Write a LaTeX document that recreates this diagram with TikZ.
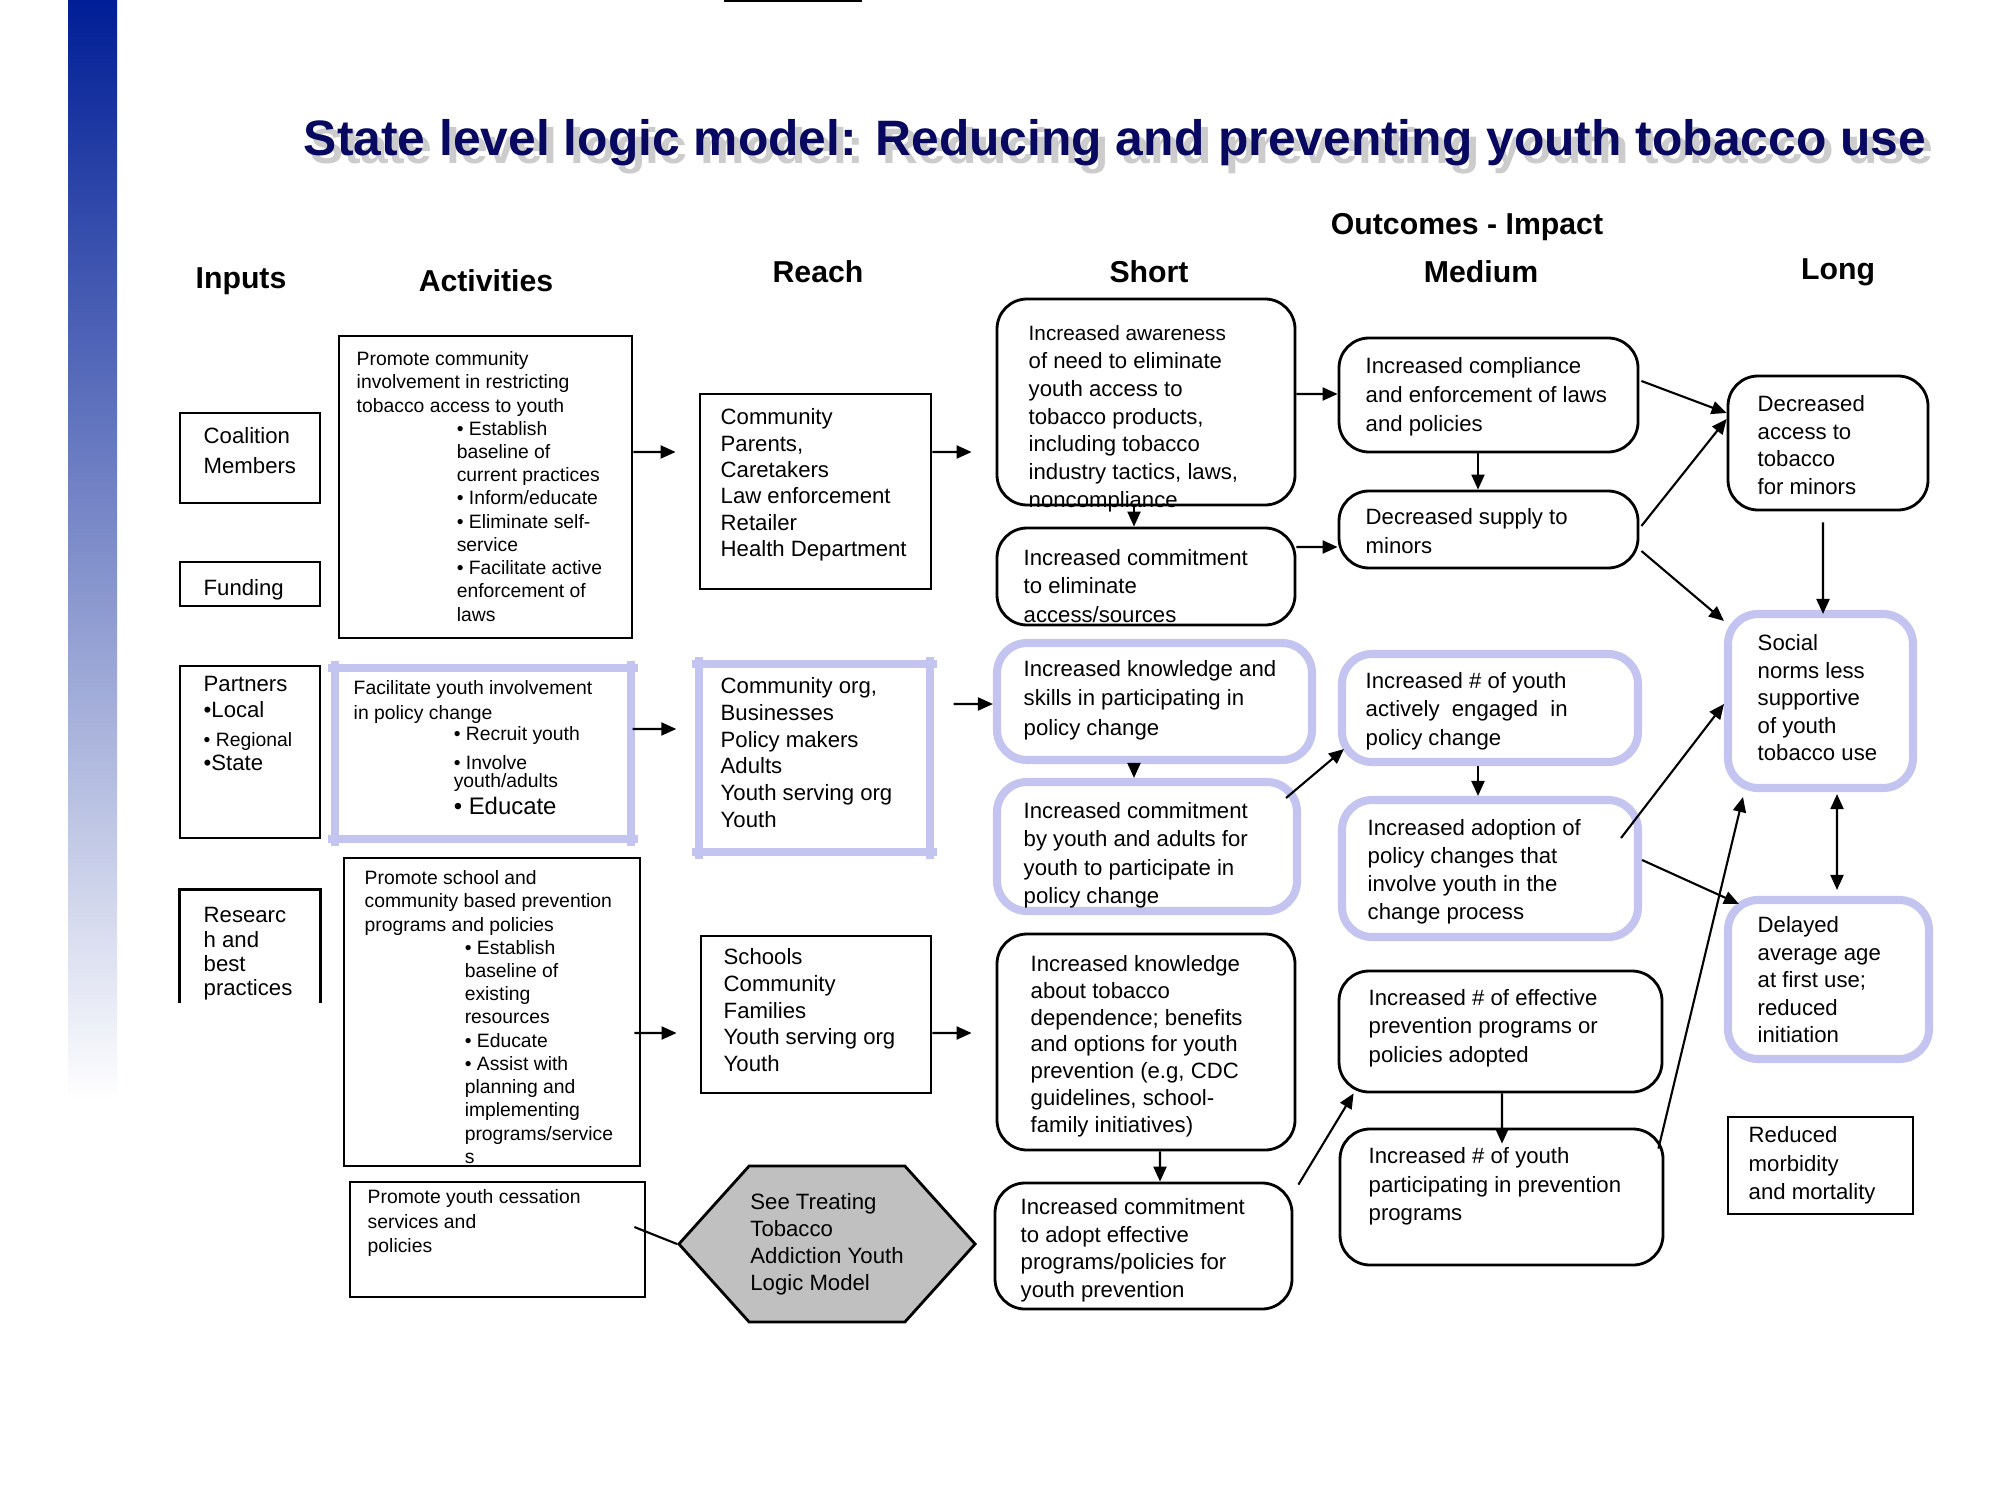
\documentclass[tikz,border=0pt]{standalone}
\usepackage{fontspec}
\setmainfont{Liberation Sans}
\usetikzlibrary{calc}
\usetikzlibrary{fit}
\usetikzlibrary{shapes.symbols}
\usetikzlibrary{arrows.meta}
\definecolor{titleblue}{RGB}{8,8,96}
\definecolor{barblue}{RGB}{0,30,150}
\definecolor{lavender}{RGB}{196,196,240}
\definecolor{hexgray}{RGB}{192,192,192}
\newcommand{\stagebox}[6]{\node[#6, fit={(#2,#3) (#4,#5)}] (#1) {};}
\newcommand{\boxtext}[5]{\node[#5] (#1) at (#2,#3) {#4};}
\newcommand{\bulind}{\hspace*{1cm}}

\begin{document}
\begin{tikzpicture}[x=0.01cm, y=-0.01cm,
    plainbox/.style={draw, line width=0.8pt, inner sep=0pt},
    roundbox/.style={draw, line width=0.8pt, rounded corners=0.3cm, inner sep=0pt},
    lavbox/.style={draw=lavender, line width=2.3pt, rounded corners=0.3cm, inner sep=0pt},
    hidebox/.style={draw=none, inner sep=0pt},
    lavline/.style={draw=lavender, line width=2.3pt, shorten <=-0.07cm, shorten >=-0.07cm},
    txt/.style={inner sep=0pt, anchor=north west, align=left, font=\fontsize{6.3}{#1}\selectfont},
    txt/.default=7.9,
    acttxt/.style={inner sep=0pt, anchor=north west, align=left, font=\fontsize{5.5}{#1}\selectfont},
    acttxt/.default=6.6,
    head/.style={inner sep=0pt, font=\fontsize{8.6}{10}\selectfont\bfseries},
    titlefont/.style={inner sep=0pt, font=\fontsize{14.15}{17}\selectfont\bfseries},
    arr/.style={line width=0.6pt, -{Triangle[length=0.15cm, width=0.13cm]}},
    hexa/.style={signal, signal to=west and east, signal pointer angle=96, draw, fill=hexgray,
      line width=0.8pt, inner sep=0pt, minimum width=2.96cm, minimum height=1.56cm,
      align=left, font=\fontsize{6.3}{7.7}\selectfont}
  ]
  \useasboundingbox (0,0) rectangle (2000,1500);
  \fill[white] (0,0) rectangle (2000,1500);

  % side bar and title
  \shade[top color=barblue, bottom color=white] (68,0) rectangle (117,1100);
  \draw[line width=0.6pt] (724,1) -- (862,1);
  \node[titlefont, text=gray!40] (title-shadow) at (1122,151) {State level logic model: Reducing and preventing youth tobacco use};
  \node[titlefont, text=titleblue] (title) at (1115,143) {State level logic model: Reducing and preventing youth tobacco use};

  % column heads
  \node[head] (h-inputs) at (241,281) {Inputs};
  \node[head] (h-act) at (486,281) {Activities};
  \node[head] (h-reach) at (818,272) {Reach};
  \node[head] (h-out) at (1467,227) {Outcomes - Impact};
  \node[head] (h-short) at (1149,272) {Short};
  \node[head] (h-medium) at (1481,272) {Medium};
  \node[head] (h-long) at (1838,272) {Long};

  % inputs
  \stagebox{coal}{180}{413}{320}{503}{plainbox}
  \stagebox{fund}{180}{562}{320}{606}{plainbox}
  \stagebox{part}{180}{666}{320}{838}{plainbox}
  \stagebox{res}{180}{890}{320}{1002}{hidebox}
  \draw[line width=0.8pt] (res.south west) -- (res.north west) -- (res.north east) -- (res.south east);
  \boxtext{coal-t}{203}{427}{Coalition\\Members}{txt=8.5}
  \boxtext{fund-t}{203}{579}{Funding}{txt}
  \boxtext{part-t}{203}{676}{Partners\\•Local\\[0.8pt]{\fontsize{5.5}{6}\selectfont • Regional}\\[-0.8pt]•State}{txt=7.4}
  \boxtext{res-t}{203}{907}{Researc\\h and\\best\\practices}{txt=6.9}

  % activities
  \stagebox{act1}{339}{336}{632}{638}{plainbox}
  \stagebox{act2}{336}{669}{630}{838}{hidebox}
  \stagebox{act3}{344}{858}{640}{1166}{plainbox}
  \stagebox{act4}{350}{1182}{645}{1297}{plainbox}
  \foreach \b in {act2} {
    \draw[lavline] (\b.north west) -- (\b.north east);
    \draw[lavline] (\b.south west) -- (\b.south east);
    \draw[lavline] (\b.north west) -- (\b.south west);
    \draw[lavline] (\b.north east) -- (\b.south east);
  }
  \boxtext{act1-t}{356}{351}{Promote community\\involvement in restricting\\tobacco access to youth\\
    \bulind• Establish\\\bulind baseline of\\\bulind current practices\\\bulind• Inform/educate\\
    \bulind• Eliminate self-\\\bulind service\\\bulind• Facilitate active\\\bulind enforcement of\\\bulind laws}{acttxt}
  \boxtext{act2-t}{353}{680}{Facilitate youth involvement\\[0.9pt]in policy change\\[-0.2pt]
    \bulind• Recruit youth\\[2pt]\bulind• Involve\\[-1pt]\bulind youth/adults\\[1.5pt]
    \bulind{\fontsize{6.8}{7}\selectfont • Educate}}{acttxt=6.2}
  \boxtext{act3-t}{364}{870}{Promote school and\\community based prevention\\programs and policies\\
    \bulind• Establish\\\bulind baseline of\\\bulind existing\\\bulind resources\\\bulind• Educate\\
    \bulind• Assist with\\\bulind planning and\\\bulind implementing\\\bulind programs/service\\\bulind s}{acttxt}
  \boxtext{act4-t}{367}{1189}{Promote youth cessation\\services and\\policies}{acttxt=7}

  % reach
  \stagebox{r1}{700}{394}{931}{589}{plainbox}
  \stagebox{r2}{700}{665}{929}{851}{hidebox}
  \stagebox{r3}{701}{936}{931}{1093}{plainbox}
  \foreach \b in {r2} {
    \draw[lavline] (\b.north west) -- (\b.north east);
    \draw[lavline] (\b.south west) -- (\b.south east);
    \draw[lavline] (\b.north west) -- (\b.south west);
    \draw[lavline] (\b.north east) -- (\b.south east);
  }
  \boxtext{r1-t}{720}{408}{Community\\Parents,\\Caretakers\\Law enforcement\\Retailer\\Health Department}{txt=7.5}
  \boxtext{r2-t}{720}{677}{Community org,\\Businesses\\Policy makers\\Adults\\Youth serving org\\Youth}{txt=7.6}
  \boxtext{r3-t}{723}{948}{Schools\\Community\\Families\\Youth serving org\\Youth}{txt=7.6}
  \node[hexa] (hex) at (827,1244) {See Treating\\Tobacco\\Addiction Youth\\Logic Model};

  % short
  \stagebox{s1}{997}{299}{1295}{505}{roundbox}
  \stagebox{s2}{997}{528}{1295}{625}{roundbox}
  \stagebox{s3}{997}{643}{1312}{760}{lavbox}
  \stagebox{s4}{997}{782}{1297}{911}{lavbox}
  \stagebox{s5}{997}{934}{1295}{1150}{roundbox}
  \stagebox{s6}{995}{1183}{1292}{1309}{roundbox}
  \boxtext{s1-t}{1028}{325}{\fontsize{5.9}{7.9}\selectfont Increased awareness\\of need to eliminate\\youth access to\\tobacco products,\\including tobacco\\industry tactics, laws,\\noncompliance}{txt}
  \boxtext{s2-t}{1023}{549}{Increased commitment\\to eliminate\\access/sources}{txt=8}
  \boxtext{s3-t}{1023}{660}{Increased knowledge and\\skills in participating in\\policy change}{txt=8.3}
  \boxtext{s4-t}{1023}{802}{Increased commitment\\by youth and adults for\\youth to participate in\\policy change}{txt=8}
  \boxtext{s5-t}{1030}{955}{Increased knowledge\\about tobacco\\dependence; benefits\\and options for youth\\prevention (e.g, CDC\\guidelines, school-\\family initiatives)}{txt=7.6}
  \boxtext{s6-t}{1020}{1198}{Increased commitment\\to adopt effective\\programs/policies for\\youth prevention}{txt=7.8}

  % medium
  \stagebox{m1}{1339}{338}{1638}{452}{roundbox}
  \stagebox{m2}{1339}{491}{1638}{568}{roundbox}
  \stagebox{m3}{1342}{654}{1638}{762}{lavbox}
  \stagebox{m4}{1342}{800}{1638}{937}{lavbox}
  \stagebox{m5}{1339}{971}{1662}{1092}{roundbox}
  \stagebox{m6}{1340}{1129}{1663}{1265}{roundbox}
  \boxtext{m1-t}{1365}{357}{Increased compliance\\and enforcement of laws\\and policies}{txt=8.2}
  \boxtext{m2-t}{1365}{508}{Decreased supply to\\minors}{txt=8.3}
  \boxtext{m3-t}{1365}{672}{Increased \# of youth\\actively\ \ engaged\ \ in\\policy change}{txt=8}
  \boxtext{m4-t}{1367}{819}{Increased adoption of\\policy changes that\\involve youth in the\\change process}{txt=7.9}
  \boxtext{m5-t}{1368}{989}{Increased \# of effective\\prevention programs or\\policies adopted}{txt=8}
  \boxtext{m6-t}{1368}{1147}{Increased \# of youth\\participating in prevention\\programs}{txt=8.1}

  % long
  \stagebox{l1}{1728}{376}{1928}{510}{roundbox}
  \stagebox{l2}{1728}{614}{1913}{788}{lavbox}
  \stagebox{l3}{1728}{900}{1929}{1059}{lavbox}
  \stagebox{l4}{1728}{1117}{1913}{1214}{plainbox}
  \boxtext{l1-t}{1757}{395}{Decreased\\access to\\tobacco\\for minors}{txt=7.8}
  \boxtext{l2-t}{1757}{634}{Social\\norms less\\supportive\\of youth\\tobacco use}{txt=7.8}
  \boxtext{l3-t}{1757}{916}{Delayed\\average age\\at first use;\\reduced\\initiation}{txt=7.8}
  \boxtext{l4-t}{1748}{1126}{Reduced\\morbidity\\and mortality}{txt=8.1}

  % arrows activities -> reach -> short
  \draw[arr, shorten >=0.23cm] ([yshift=0.35cm]act1.east) -- ([yshift=0.395cm]r1.west);
  \draw[arr, shorten >=0.23cm] ([xshift=0.02cm, yshift=0.245cm]act2.east) -- ([yshift=0.29cm]r2.west);
  \draw[arr, shorten >=0.23cm] ([xshift=-0.07cm, yshift=-0.21cm]act3.east) -- ([yshift=-0.185cm]r3.west);
  \draw[line width=0.6pt] ([xshift=-0.12cm, yshift=0.125cm]act4.east) -- (hex.west);
  \draw[arr, shorten >=0.24cm] ([yshift=0.395cm]r1.east) -- ([yshift=-0.5cm]s1.west);
  \draw[arr] ([xshift=0.24cm, yshift=0.54cm]r2.east) -- ([yshift=-0.025cm]s3.west);
  \draw[arr, shorten >=0.24cm] ([yshift=-0.185cm]r3.east) -- ([yshift=0.09cm]s5.west);

  % arrows short
  \draw[arr] ([xshift=-0.12cm]s1.south) -- ([xshift=-0.12cm]s2.north);
  \draw[arr] ([xshift=-0.205cm]s3.south) -- ([xshift=-0.13cm]s4.north);
  \draw[arr] ([xshift=0.14cm]s5.south) -- ([xshift=0.165cm]s6.north);
  \draw[arr] ([yshift=0.08cm]s1.east) -- ([yshift=0.01cm]m1.west);
  \draw[arr] ([yshift=0.295cm]s2.east) -- ([yshift=-0.175cm]m2.west);
  \draw[arr] ([xshift=-0.15cm, yshift=-0.2cm]s4.north east) -- ([xshift=0.06cm, yshift=0.17cm]m3.south west);
  \draw[arr] ([xshift=0.05cm, yshift=-0.03cm]s6.north east) -- ([xshift=0.16cm]m5.south west);

  % arrows medium
  \draw[arr] ([xshift=-0.105cm]m1.south) -- ([xshift=-0.105cm]m2.north);
  \draw[arr] ([xshift=-0.12cm]m3.south) -- ([xshift=-0.12cm]m4.north);
  \draw[arr, shorten >=-0.16cm] ([xshift=0.015cm]m5.south) -- ([xshift=0.005cm]m6.north);
  \draw[arr] ([xshift=0.02cm, yshift=0.14cm]m1.east) -- ([yshift=0.3cm]l1.west);
  \draw[arr] ([xshift=0.02cm, yshift=0.035cm]m2.east) -- ([yshift=0.24cm]l1.west);
  \draw[arr] ([xshift=0.02cm, yshift=-0.215cm]m2.east) -- ([yshift=-0.11cm]l2.north west);
  \draw[arr] ([xshift=-0.21cm, yshift=0.305cm]m4.east) -- ([yshift=-0.03cm]l2.west);
  \draw[arr] ([yshift=0.085cm]m4.east) -- ([xshift=0.15cm, yshift=-0.08cm]l3.north west);
  \draw[arr] ([xshift=-0.06cm, yshift=-0.21cm]m6.north east) -- ([xshift=0.19cm, yshift=-0.05cm]l2.south west);

  % arrows long
  \draw[arr] ([xshift=-0.05cm, yshift=-0.11cm]l1.south) -- ([xshift=0.025cm, yshift=-0.04cm]l2.north);
  \draw[arr, {Triangle[length=0.15cm, width=0.13cm]}-{Triangle[length=0.15cm, width=0.13cm]}]
    ([xshift=0.165cm, yshift=-0.02cm]l2.south) -- ([xshift=0.085cm, yshift=0.06cm]l3.north);
\end{tikzpicture}
\end{document}
